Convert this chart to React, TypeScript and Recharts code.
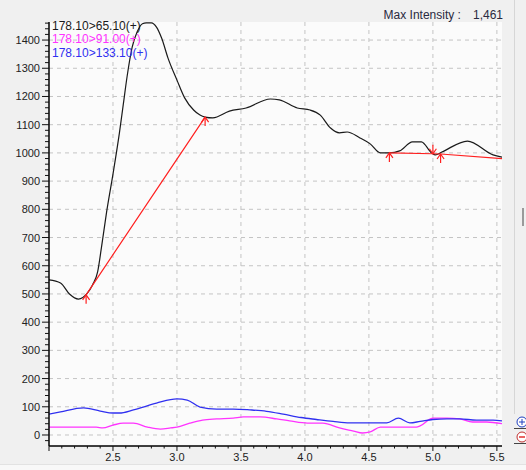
import React from "react";
import { LineChart, Line, XAxis, YAxis, CartesianGrid } from "recharts";

// 178.10>65.10(+)  (black trace)
const t65X = [2.0, 2.09, 2.16, 2.23, 2.3, 2.34, 2.38, 2.41, 2.45, 2.5, 2.55, 2.58, 2.61, 2.65, 2.69, 2.73, 2.76, 2.8, 2.84, 2.88, 2.93, 3.0, 3.06, 3.13, 3.18, 3.22, 3.28, 3.41, 3.54, 3.73, 3.8, 3.94, 4.04, 4.12, 4.2, 4.27, 4.33, 4.43, 4.51, 4.59, 4.66, 4.74, 4.84, 4.91, 4.99, 5.02, 5.07, 5.27, 5.47, 5.54];
const t65Y = [550, 539, 500, 482, 503, 532, 578, 665, 790, 925, 1070, 1170, 1270, 1375, 1430, 1458, 1461, 1461, 1446, 1407, 1336, 1258, 1195, 1152, 1134, 1127, 1124, 1148, 1159, 1191, 1188, 1159, 1152, 1134, 1088, 1071, 1074, 1053, 1032, 1000, 1000, 1007, 1039, 1039, 1000, 993, 1003, 1042, 993, 985];

// 178.10>91.00(+)  (magenta trace)
const t91X = [2.0, 2.37, 2.42, 2.5, 2.58, 2.66, 2.77, 2.87, 2.95, 3.0, 3.1, 3.2, 3.31, 3.44, 3.52, 3.65, 3.78, 3.88, 4.02, 4.14, 4.27, 4.38, 4.45, 4.51, 4.59, 4.64, 4.87, 4.9, 4.98, 5.0, 5.11, 5.21, 5.31, 5.42, 5.54];
const t91Y = [28, 28, 25, 35, 42, 42, 28, 21, 25, 28, 42, 53, 57, 60, 64, 64, 57, 50, 42, 42, 25, 14, 7, 11, 28, 28, 28, 32, 57, 60, 60, 57, 46, 46, 40];

// 178.10>133.10(+)  (blue trace)
const t133X = [2.0, 2.09, 2.27, 2.4, 2.5, 2.55, 2.66, 2.84, 3.0, 3.08, 3.18, 3.31, 3.44, 3.57, 3.7, 3.83, 3.97, 4.09, 4.22, 4.35, 4.48, 4.64, 4.73, 4.82, 4.9, 5.0, 5.11, 5.21, 5.34, 5.47, 5.54];
const t133Y = [74, 82, 96, 85, 78, 78, 89, 113, 128, 124, 99, 92, 92, 89, 84, 74, 62, 55, 48, 43, 43, 43, 60, 43, 48, 55, 57, 57, 53, 53, 50];

// peak integration baseline (red)
const baseX = [2.29, 3.22, 4.0, 4.66, 5.0, 5.06, 5.54];
const baseY = [497, 1127, null, 1000, 997, 996, 980];
const baseMark = ["up", "up", null, "up", "down", "up", null];

const traceNames = ["178.10>65.10(+)", "178.10>91.00(+)", "178.10>133.10(+)"];
const traceColors = ["#1a1a1a", "#ff33ff", "#3030f0"];
const maxIntensity = "1,461";

const xTicks = Array.from({ length: 36 }, (_, i) => Math.round((2.0 + i * 0.1) * 10) / 10);
const yTicks = Array.from({ length: 75 }, (_, i) => -20 + i * 20);

const toPoints = (xs: number[], ys: (number | null)[]) => xs.map((x, i) => ({ x, y: ys[i] }));

const font = "'Liberation Sans', Arial, sans-serif";

const YTick = (props: any) => {
  const { x, y, payload } = props;
  const major = payload.value % 100 === 0;
  return (
    <g>
      <line x1={x - (major ? 7 : 4)} x2={x} y1={y} y2={y} stroke="#111" />
      {major && (
        <text x={x - 9} y={y} textAnchor="end" dominantBaseline="central" fontSize={11} fontFamily={font} fill="#222">
          {payload.value}
        </text>
      )}
    </g>
  );
};

const XTick = (props: any) => {
  const { x, y, payload } = props;
  const v = payload.value;
  const major = Math.round(v * 10) % 5 === 0;
  return (
    <g>
      <line x1={x} x2={x} y1={y} y2={y + (major ? 5 : 2.5)} stroke="#111" />
      {major && v > 2.01 && (
        <text x={x} y={y + 11} textAnchor="middle" dominantBaseline="central" fontSize={11} fontFamily={font} fill="#222">
          {v.toFixed(1)}
        </text>
      )}
    </g>
  );
};

const PeakMark = (props: any) => {
  const { cx, cy, index } = props;
  const mark = baseMark[index];
  if (!mark || cy == null) return <g key={index} />;
  const s = mark === "up" ? 1 : -1;
  return (
    <g key={index} stroke="#ff2020" strokeWidth={1.2} fill="none">
      <line x1={cx} y1={cy} x2={cx} y2={cy + s * 9} />
      <polyline points={`${cx - 3.5},${cy + s * 5} ${cx},${cy} ${cx + 3.5},${cy + s * 5}`} />
    </g>
  );
};

export default function App() {
  const xDomain = [2.0, 5.54];
  const yDomain = [-39, 1464];
  return (
    <div style={{ position: "absolute", left: 0, top: 0, width: 526, height: 470, background: "#f0f0f0", fontFamily: font, overflow: "hidden" }}>
      <LineChart width={526} height={470} data={[]} margin={{ top: 22, right: 24, left: 0, bottom: 0 }}>
        <CartesianGrid
          fill="#fbfbfb"
          stroke="#c4c4c4"
          strokeDasharray="4 4"
          horizontalValues={[0, 100, 200, 300, 400, 500, 600, 700, 800, 900, 1000, 1100, 1200, 1300, 1400]}
          verticalValues={[2.5, 3.0, 3.5, 4.0, 4.5, 5.0, 5.5]}
        />
        <XAxis
          dataKey="x"
          type="number"
          domain={xDomain}
          allowDataOverflow
          ticks={xTicks}
          interval={0}
          height={24}
          tickSize={0}
          tickMargin={0}
          tickLine={false}
          tick={<XTick />}
          axisLine={{ stroke: "#000", strokeWidth: 1.5 }}
        />
        <XAxis
          xAxisId="top"
          orientation="top"
          dataKey="x"
          type="number"
          domain={xDomain}
          height={0}
          tick={false}
          tickLine={false}
          axisLine={{ stroke: "#000", strokeWidth: 1 }}
        />
        <YAxis
          type="number"
          domain={yDomain}
          allowDataOverflow
          ticks={yTicks}
          interval={0}
          width={49}
          tickSize={0}
          tickMargin={0}
          tickLine={false}
          tick={<YTick />}
          axisLine={{ stroke: "#000", strokeWidth: 1.5 }}
        />
        <YAxis
          yAxisId="right"
          orientation="right"
          type="number"
          domain={yDomain}
          width={0}
          tick={false}
          tickLine={false}
          axisLine={{ stroke: "#000", strokeWidth: 2 }}
        />
        <Line data={toPoints(t91X, t91Y)} dataKey="y" type="monotone" stroke={traceColors[1]} strokeWidth={1.3} dot={false} isAnimationActive={false} />
        <Line data={toPoints(t133X, t133Y)} dataKey="y" type="monotone" stroke={traceColors[2]} strokeWidth={1.3} dot={false} isAnimationActive={false} />
        <Line data={toPoints(t65X, t65Y)} dataKey="y" type="monotone" stroke={traceColors[0]} strokeWidth={1.2} dot={false} isAnimationActive={false} />
        <Line
          data={toPoints(baseX, baseY)}
          dataKey="y"
          type="linear"
          stroke="#ff2020"
          strokeWidth={1.2}
          connectNulls={false}
          dot={<PeakMark />}
          activeDot={false}
          isAnimationActive={false}
        />
      </LineChart>

      {/* trace names, top left of the plot */}
      {traceNames.map((name, i) => (
        <div
          key={name}
          style={{ position: "absolute", left: 52, top: [19.5, 33, 46.5][i], fontSize: 12, lineHeight: "12px", color: traceColors[i], whiteSpace: "nowrap" }}
        >
          {name}
        </div>
      ))}

      <div style={{ position: "absolute", right: 23, top: 8, fontSize: 12, lineHeight: "14px", color: "#2a2a40", whiteSpace: "nowrap" }}>
        Max Intensity :<span style={{ marginLeft: 12 }}>{maxIntensity}</span>
      </div>

      {/* side panel bits */}
      <div style={{ position: "absolute", left: 514, top: 0, width: 1, height: 414, background: "#d6d6d6" }} />
      <div style={{ position: "absolute", left: 522, top: 208, width: 2, height: 18, background: "#9a9a9a" }} />
      <div style={{ position: "absolute", left: 514, top: 428, width: 12, height: 1, background: "#444" }} />
      <div style={{ position: "absolute", left: 514, top: 443, width: 12, height: 1, background: "#444" }} />
      <svg style={{ position: "absolute", left: 514, top: 416 }} width={12} height={30}>
        <circle cx={8} cy={6} r={5} fill="#fff" stroke="#2040c0" />
        <line x1={5} x2={11} y1={6} y2={6} stroke="#2040c0" />
        <line x1={8} x2={8} y1={3} y2={9} stroke="#2040c0" />
        <circle cx={8} cy={21} r={5} fill="#fff" stroke="#c03030" />
        <line x1={5} x2={11} y1={21} y2={21} stroke="#e03030" strokeWidth={1.5} />
      </svg>
      <div style={{ position: "absolute", left: 0, top: 464, width: 526, height: 6, background: "#f8f8f8", borderTop: "1px solid #e2e2e2" }} />
    </div>
  );
}
